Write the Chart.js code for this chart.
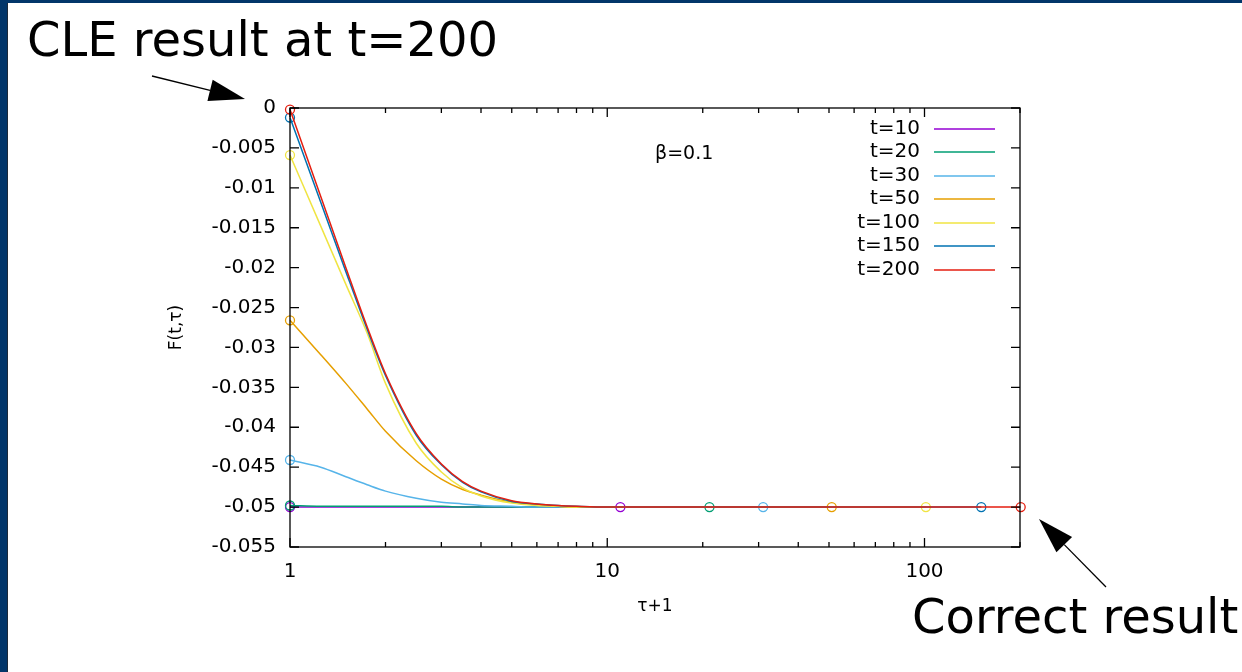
<!DOCTYPE html>
<html>
<head>
<meta charset="utf-8">
<script src="https://cdn.jsdelivr.net/npm/chart.js@4/dist/chart.umd.min.js"></script>
<style>
  html, body { margin: 0; padding: 0; background: #fff; }
  #wrap { position: relative; width: 1242px; height: 672px; overflow: hidden; }
  #frameLeft { position: absolute; left: 0; top: 0; width: 7px; height: 672px; background: #02366a; border-right: 1px solid #1d2a3a; }
  #frameTop { position: absolute; left: 0; top: 0; width: 1242px; height: 3px; background: #02366a; }
  canvas { position: absolute; left: 0; top: 0; }
</style>
</head>
<body>
<div id="wrap">
  <canvas id="myChart" width="1242" height="672"></canvas>
  <div id="frameLeft"></div>
  <div id="frameTop"></div>
</div>
<script>
const tauPlusOne = [1, 1.25, 1.5, 1.75, 2, 2.5, 3, 3.5, 4, 5, 6, 7, 8, 10];
// last point of each run (tau = t)
const endTau = [11, 21, 31, 51, 101, 151, 201];
const endValue = -0.05;

const seriesLabels = ["t=10", "t=20", "t=30", "t=50", "t=100", "t=150", "t=200"];
const seriesColors = ["#9400d3", "#009e73", "#56b4e9", "#e69f00", "#f0e442", "#0072b2", "#e51e10"];

const f10  = [-0.05, -0.05, -0.05, -0.05, -0.05, -0.05, -0.05, -0.05, -0.05, -0.05, -0.05, -0.05, -0.05, -0.05];
const f20  = [-0.0498, -0.0499, -0.0499, -0.0499, -0.0499, -0.0499, -0.0499, -0.05, -0.05, -0.05, -0.05, -0.05, -0.05, -0.05];
const f30  = [-0.0441, -0.045, -0.0462, -0.0472, -0.048, -0.0489, -0.0494, -0.0496, -0.0498, -0.0499, -0.05, -0.05, -0.05, -0.05];
const f50  = [-0.0266, -0.0309, -0.0345, -0.0377, -0.0405, -0.0442, -0.0465, -0.0478, -0.0485, -0.0494, -0.0497, -0.0499, -0.05, -0.05];
const f100 = [-0.0059, -0.0148, -0.0221, -0.0282, -0.0345, -0.042, -0.0456, -0.0476, -0.0486, -0.0495, -0.0498, -0.0499, -0.05, -0.05];
const f150 = [-0.0012, -0.0118, -0.0205, -0.0277, -0.0335, -0.041, -0.0447, -0.0469, -0.0481, -0.0493, -0.0496, -0.0498, -0.0499, -0.05];
const f200 = [-0.0002, -0.0111, -0.02, -0.0274, -0.0333, -0.0408, -0.0446, -0.0468, -0.048, -0.0492, -0.0496, -0.0498, -0.0499, -0.05];
const seriesValues = [f10, f20, f30, f50, f100, f150, f200];

const yTicks = [0, -0.005, -0.01, -0.015, -0.02, -0.025, -0.03, -0.035, -0.04, -0.045, -0.05, -0.055];
const xMajor = [1, 10, 100];
const xMinor = [2, 3, 4, 5, 6, 7, 8, 9, 20, 30, 40, 50, 60, 70, 80, 90, 200];

const FONT = "DejaVu Sans";

const datasets = seriesValues.map((vals, i) => {
  const pts = tauPlusOne.map((x, j) => ({ x: x, y: vals[j] }));
  pts.push({ x: endTau[i], y: endValue });
  const last = pts.length - 1;
  return {
    label: seriesLabels[i],
    data: pts,
    borderColor: seriesColors[i],
    backgroundColor: "rgba(0,0,0,0)",
    borderWidth: 1.5,
    cubicInterpolationMode: "monotone",
    pointRadius: (c) => (c.dataIndex === 0 || c.dataIndex === last ? 4.5 : 0),
    pointBorderWidth: 1.3,
    pointBorderColor: seriesColors[i],
    pointBackgroundColor: "rgba(0,0,0,0)",
    order: seriesValues.length - 1 - i,
    clip: false,
  };
});

function arrow(ctx, x1, y1, x2, y2) {
  const a = Math.atan2(y2 - y1, x2 - x1);
  const len = 36, half = 11;
  const bx = x2 - len * Math.cos(a), by = y2 - len * Math.sin(a);
  ctx.beginPath();
  ctx.moveTo(x1, y1);
  ctx.lineTo(bx, by);
  ctx.lineWidth = 1.3;
  ctx.strokeStyle = "#000";
  ctx.stroke();
  ctx.beginPath();
  ctx.moveTo(x2, y2);
  ctx.lineTo(bx + half * Math.sin(a), by - half * Math.cos(a));
  ctx.lineTo(bx - half * Math.sin(a), by + half * Math.cos(a));
  ctx.closePath();
  ctx.fillStyle = "#000";
  ctx.fill();
}

const frame = {
  id: "frame",
  beforeDraw(chart) {
    const ctx = chart.ctx;
    ctx.save();
    ctx.fillStyle = "#fff";
    ctx.fillRect(0, 0, chart.width, chart.height);
    ctx.restore();
  },
  afterDraw(chart) {
    const ctx = chart.ctx;
    const { left, right, top, bottom } = chart.chartArea;
    const xs = chart.scales.x, ys = chart.scales.y;
    ctx.save();
    ctx.strokeStyle = "#000";
    ctx.lineWidth = 1.3;
    ctx.strokeRect(left, top, right - left, bottom - top);
    ctx.beginPath();
    yTicks.forEach((v) => {
      const y = ys.getPixelForValue(v);
      ctx.moveTo(left, y); ctx.lineTo(left + 9, y);
      ctx.moveTo(right, y); ctx.lineTo(right - 9, y);
    });
    xMajor.forEach((v) => {
      const x = xs.getPixelForValue(v);
      ctx.moveTo(x, bottom); ctx.lineTo(x, bottom - 9);
      ctx.moveTo(x, top); ctx.lineTo(x, top + 9);
    });
    xMinor.forEach((v) => {
      const x = xs.getPixelForValue(v);
      ctx.moveTo(x, bottom); ctx.lineTo(x, bottom - 5);
      ctx.moveTo(x, top); ctx.lineTo(x, top + 5);
    });
    ctx.stroke();

    // axis titles and label
    ctx.fillStyle = "#000";
    ctx.font = "17px '" + FONT + "'";
    ctx.textAlign = "center";
    ctx.textBaseline = "middle";
    ctx.fillText("\u03c4+1", (left + right) / 2, 607);
    ctx.save();
    ctx.translate(177, (top + bottom) / 2);
    ctx.rotate(-Math.PI / 2);
    ctx.fillText("F(t,\u03c4)", 0, 0);
    ctx.restore();
    ctx.font = "19px '" + FONT + "'";
    ctx.textAlign = "left";
    ctx.fillText("\u03b2=0.1", 655, 154);

    // legend: text then line sample
    const rowY = [129, 152, 176, 199, 223, 246, 270];
    ctx.font = "20px '" + FONT + "'";
    seriesLabels.forEach((lab, i) => {
      ctx.textAlign = "right";
      ctx.fillStyle = "#000";
      ctx.fillText(lab, 920, rowY[i]);
      ctx.beginPath();
      ctx.moveTo(934, rowY[i]);
      ctx.lineTo(995, rowY[i]);
      ctx.strokeStyle = seriesColors[i];
      ctx.lineWidth = 1.5;
      ctx.stroke();
    });

    // slide annotations
    ctx.fillStyle = "#000";
    ctx.textAlign = "left";
    ctx.textBaseline = "alphabetic";
    ctx.font = "48px '" + FONT + "'";
    ctx.fillText("CLE result at t=200", 27, 56);
    ctx.fillText("Correct result", 912, 633);
    arrow(ctx, 152, 76, 245, 99);
    arrow(ctx, 1106, 587, 1039, 519);
    ctx.restore();
  },
};

const ctx = document.getElementById("myChart").getContext("2d");
new Chart(ctx, {
  type: "line",
  data: { datasets: datasets },
  options: {
    responsive: false,
    animation: false,
    layout: { padding: { left: 210, right: 222, top: 108, bottom: 65 } },
    plugins: { legend: { display: false }, tooltip: { enabled: false } },
    scales: {
      x: {
        type: "logarithmic",
        min: 1,
        max: 200,
        grid: { display: false, drawTicks: false },
        border: { display: false },
        afterFit: (s) => { s.height = 60; },
        ticks: {
          autoSkip: false,
          maxRotation: 0,
          padding: 13,
          color: "#000",
          font: { family: FONT, size: 20 },
          callback: (v) => (xMajor.includes(v) ? String(v) : ""),
        },
      },
      y: {
        type: "linear",
        min: -0.055,
        max: 0,
        grid: { display: false, drawTicks: false },
        border: { display: false },
        afterFit: (s) => { s.width = 80; },
        ticks: {
          stepSize: 0.005,
          padding: 14,
          color: "#000",
          font: { family: FONT, size: 20 },
          callback: (v) => String(parseFloat(v.toFixed(3))),
        },
      },
    },
  },
  plugins: [frame],
});
</script>
</body>
</html>
